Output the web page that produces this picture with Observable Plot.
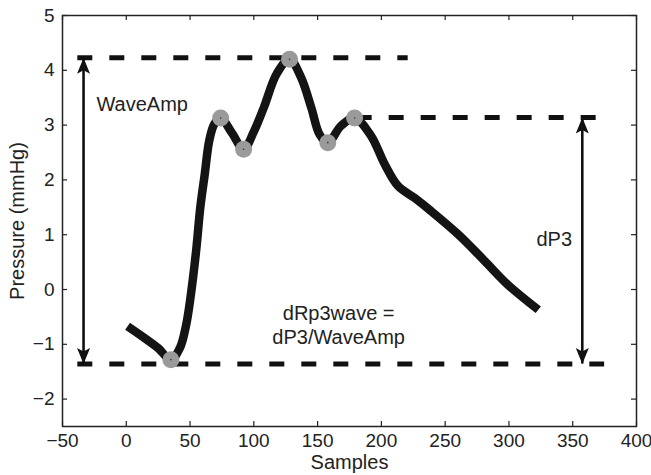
<!DOCTYPE html>
<html><head><meta charset="utf-8">
<script src="https://cdn.jsdelivr.net/npm/d3@7"></script>
<script src="https://cdn.jsdelivr.net/npm/@observablehq/plot@0.6"></script>
<style>body{margin:0;background:#fff;}</style>
</head><body><div id="chart"></div>
<script>
// Pressure waveform
const samples  = [1, 14, 25, 35, 42, 47, 51, 55, 58, 61.5, 65, 69, 74, 83, 92, 100, 108, 118, 128, 137, 145, 151.5, 158, 168.5, 179, 192, 202.5, 213, 226, 239, 260, 281, 299, 323];
const pressure = [-0.67, -0.88, -1.07, -1.28, -1.07, -0.64, -0.03, 0.76, 1.49, 2.10, 2.71, 3.02, 3.13, 2.85, 2.56, 2.88, 3.33, 3.94, 4.20, 3.87, 3.32, 2.83, 2.68, 2.99, 3.13, 2.80, 2.29, 1.89, 1.67, 1.43, 1.01, 0.52, 0.09, -0.37];
// Detected extrema (grey markers)
const peakSamples  = [35, 74, 92, 128, 158, 179];
const peakPressure = [-1.28, 3.13, 2.56, 4.20, 2.68, 3.13];
// Reference dashed levels
const refLevels = [4.23, 3.14, -1.36];
const refStart  = [-38, 181, -38];
const refEnd    = [221, 372, 375];
// Double-headed arrows
const arrowSamples = [-33.5, 357.5];
const arrowTop     = [4.23, 3.14];
const arrowBottom  = [-1.36, -1.36];
// Annotations
const labels = ["WaveAmp", "dP3", "dRp3wave =\ndP3/WaveAmp"];
const labelX = [12.5, 335.5, 166.5];
const labelY = [3.39, 0.94, -0.63];
// Ticks
const xTicks = [-50, 0, 50, 100, 150, 200, 250, 300, 350, 400];
const yTicks = [-2, -1, 0, 1, 2, 3, 4, 5];

const W = 651, H = 475, mL = 62, mR = 15, mT = 15, mB = 49;
const innerH = H - mT - mB, innerW = W - mL - mR;
const tk = 5;

const wave = samples.map((s, i) => ({s, p: pressure[i]}));
const peaks = peakSamples.map((s, i) => ({s, p: peakPressure[i]}));
const refs = refLevels.map((v, i) => ({v, x1: refStart[i], x2: refEnd[i]}));
const arrows = arrowSamples.map((s, i) => ({s, top: arrowTop[i], bottom: arrowBottom[i]}));
const notes = labels.map((t, i) => ({t, x: labelX[i], y: labelY[i]}));

const headUp = {draw(c) { c.moveTo(0, 0); c.lineTo(6.5, 16); c.lineTo(0, 12.5); c.lineTo(-6.5, 16); c.closePath(); }};
const headDown = {draw(c) { c.moveTo(0, 0); c.lineTo(6.5, -16); c.lineTo(0, -12.5); c.lineTo(-6.5, -16); c.closePath(); }};

const chart = Plot.plot({
  width: W, height: H,
  marginLeft: mL, marginRight: mR, marginTop: mT, marginBottom: mB,
  style: {fontFamily: "'Liberation Sans', Arial, sans-serif", fontSize: "19px", color: "#222", background: "#fff"},
  x: {domain: [-50, 400], ticks: xTicks},
  y: {domain: [-2.5, 5], ticks: yTicks},
  marks: [
    Plot.frame({stroke: "#222", strokeWidth: 1.5}),
    Plot.tickX(xTicks, {x: d => d, insetTop: innerH - tk, stroke: "#222", strokeWidth: 1.2}),
    Plot.tickX(xTicks, {x: d => d, insetBottom: innerH - tk, stroke: "#222", strokeWidth: 1.2}),
    Plot.tickY(yTicks, {y: d => d, insetRight: innerW - tk, stroke: "#222", strokeWidth: 1.2}),
    Plot.tickY(yTicks, {y: d => d, insetLeft: innerW - tk, stroke: "#222", strokeWidth: 1.2}),
    Plot.axisX({ticks: xTicks, tickSize: 0, tickPadding: 7, label: null, fontSize: 19}),
    Plot.axisY({ticks: yTicks, tickSize: 0, tickPadding: 8, label: null, fontSize: 19}),
    Plot.axisX({ticks: [], tickSize: 0, label: "Samples", labelAnchor: "center", labelOffset: 42, labelArrow: "none", fontSize: 20}),
    Plot.axisY({ticks: [], tickSize: 0, label: "Pressure (mmHg)", labelAnchor: "center", labelOffset: 53, labelArrow: "none", fontSize: 20}),
    Plot.ruleY(refs, {y: "v", x1: "x1", x2: "x2", stroke: "#111", strokeWidth: 5, strokeDasharray: "15,17"}),
    Plot.ruleX(arrows, {x: "s", y1: "top", y2: "bottom", stroke: "#111", strokeWidth: 2.6}),
    Plot.dot(arrows, {x: "s", y: "top", symbol: headUp, fill: "#111", stroke: "none"}),
    Plot.dot(arrows, {x: "s", y: "bottom", symbol: headDown, fill: "#111", stroke: "none"}),
    Plot.line(wave, {x: "s", y: "p", curve: "catmull-rom", stroke: "#141414", strokeWidth: 8.5, strokeLinecap: "butt", strokeLinejoin: "round"}),
    Plot.dot(peaks, {x: "s", y: "p", r: 8.5, fill: "#9a9a9a", stroke: "none"}),
    Plot.dot(peaks, {x: "s", y: "p", r: 0.8, fill: "#333", stroke: "none"}),
    Plot.text(notes, {x: "x", y: "y", text: "t", fontSize: 20, lineHeight: 1.2, textAnchor: "middle", fill: "#222"})
  ]
});
document.getElementById("chart").appendChild(chart);
</script>
</body></html>
